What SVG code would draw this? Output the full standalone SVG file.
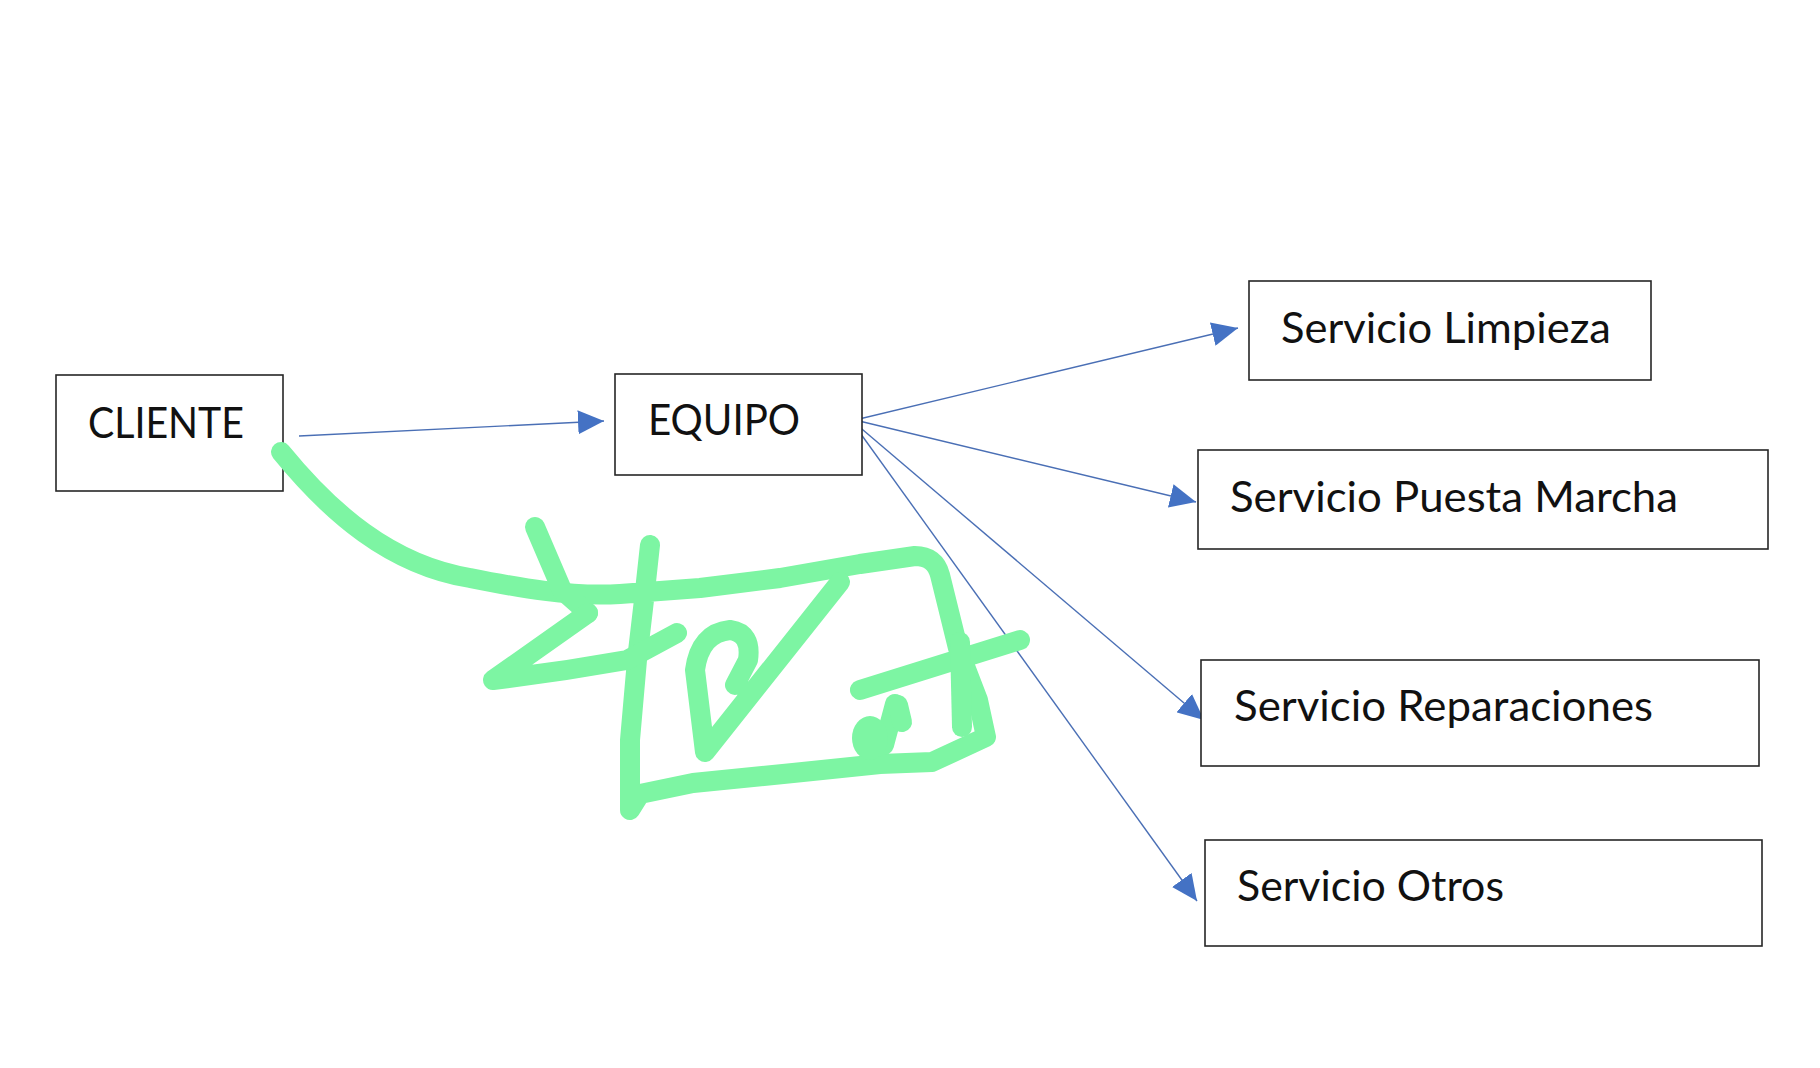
<svg xmlns="http://www.w3.org/2000/svg" width="1820" height="1068" viewBox="0 0 1820 1068">
<style>
.box{fill:#fff;stroke:#262626;stroke-width:1.6}
.lbl{font-family:Lato,"Open Sans","Liberation Sans",sans-serif;font-size:42px;fill:#111}
.con{stroke:#4a6fb5;stroke-width:1.4;fill:none}
.ink{fill:none;stroke:#7df5a3;stroke-width:20;stroke-linecap:round;stroke-linejoin:round}
</style>
<defs>
<marker id="ah" viewBox="0 0 10 10" refX="10" refY="5" markerWidth="26" markerHeight="24" markerUnits="userSpaceOnUse" orient="auto" preserveAspectRatio="none">
<path d="M0,0 L10,5 L0,10 z" fill="#4472c4"/>
</marker>
</defs>
<rect width="1820" height="1068" fill="#fff"/>
<g id="connectors">
<line class="con" x1="299" y1="436" x2="604" y2="421" marker-end="url(#ah)"/>
<line class="con" x1="855" y1="420" x2="1238" y2="328" marker-end="url(#ah)"/>
<line class="con" x1="855" y1="420" x2="1196" y2="502" marker-end="url(#ah)"/>
<line class="con" x1="856" y1="424" x2="1204" y2="720" marker-end="url(#ah)"/>
<line class="con" x1="858" y1="430" x2="1197" y2="901" marker-end="url(#ah)"/>
</g>
<g id="cliente"><rect class="box" x="56" y="375" width="227" height="116"/><text class="lbl" x="88" y="438" textLength="156" lengthAdjust="spacingAndGlyphs">CLIENTE</text></g>
<g id="equipo"><rect class="box" x="615" y="374" width="247" height="101"/><text class="lbl" x="648" y="435" textLength="152" lengthAdjust="spacingAndGlyphs">EQUIPO</text></g>
<g id="limpieza"><rect class="box" x="1249" y="281" width="402" height="99"/><text class="lbl" x="1281" y="343" textLength="330" lengthAdjust="spacingAndGlyphs">Servicio Limpieza</text></g>
<g id="puesta"><rect class="box" x="1198" y="450" width="570" height="99"/><text class="lbl" x="1230" y="512" textLength="448" lengthAdjust="spacingAndGlyphs">Servicio Puesta Marcha</text></g>
<g id="reparaciones"><rect class="box" x="1201" y="660" width="558" height="106"/><text class="lbl" x="1234" y="721" textLength="419" lengthAdjust="spacingAndGlyphs">Servicio Reparaciones</text></g>
<g id="otros"><rect class="box" x="1205" y="840" width="557" height="106"/><text class="lbl" x="1237" y="901" textLength="267" lengthAdjust="spacingAndGlyphs">Servicio Otros</text></g>
<g id="scribble">
<path class="ink" d="M281,452 C330,512 390,565 470,578 C520,588 570,597 620,594 L700,588 L780,578 L860,564 L915,556 Q935,556 940,575 L958,648 L978,700 L986,737 L932,762 L880,764 L793,773 L693,783 L640,794 L630,810 L630,740 L637,660 L644,600 L650,545"/>
<path class="ink" d="M535,527 L562,590 L588,613"/>
<path class="ink" d="M588,613 L493,680 Q560,672 627,660 L677,633"/>
<path class="ink" d="M840,582 L705,752 L695,670 Q700,633 730,630 Q752,633 748,660 L735,685"/>
<path class="ink" d="M860,690 L1020,640"/>
<path class="ink" d="M960,642 L962,727"/>
<path class="ink" d="M895,704 L884,745"/>
<path class="ink" d="M898,705 L902,722"/>
<ellipse cx="870" cy="738" rx="18" ry="22" fill="#7df5a3"/>
</g>
</svg>
